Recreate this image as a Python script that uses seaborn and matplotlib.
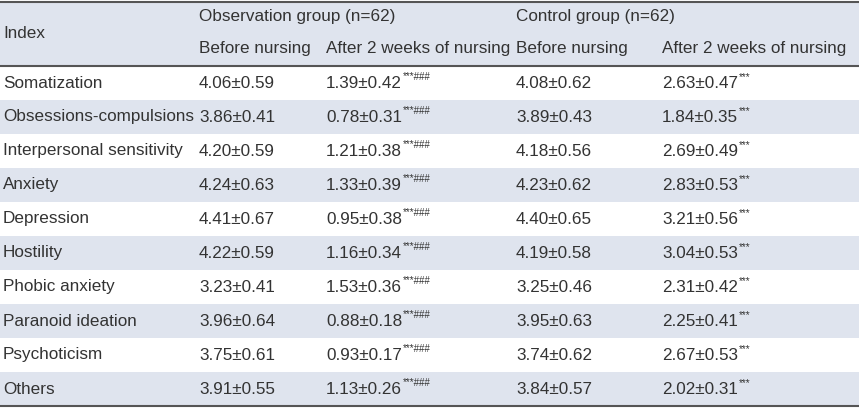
import matplotlib
matplotlib.use("Agg")
import matplotlib.pyplot as plt
import seaborn as sns

sns.set_theme(style="white")
plt.rcParams['font.family'] = ['Liberation Sans', 'DejaVu Sans']

indices = ["Somatization", "Obsessions-compulsions", "Interpersonal sensitivity", "Anxiety",
           "Depression", "Hostility", "Phobic anxiety", "Paranoid ideation", "Psychoticism", "Others"]
obs_before = ["4.06±0.59", "3.86±0.41", "4.20±0.59", "4.24±0.63", "4.41±0.67",
              "4.22±0.59", "3.23±0.41", "3.96±0.64", "3.75±0.61", "3.91±0.55"]
obs_after = ["1.39±0.42", "0.78±0.31", "1.21±0.38", "1.33±0.39", "0.95±0.38",
             "1.16±0.34", "1.53±0.36", "0.88±0.18", "0.93±0.17", "1.13±0.26"]
ctl_before = ["4.08±0.62", "3.89±0.43", "4.18±0.56", "4.23±0.62", "4.40±0.65",
              "4.19±0.58", "3.25±0.46", "3.95±0.63", "3.74±0.62", "3.84±0.57"]
ctl_after = ["2.63±0.47", "1.84±0.35", "2.69±0.49", "2.83±0.53", "3.21±0.56",
             "3.04±0.53", "2.31±0.42", "2.25±0.41", "2.67±0.53", "2.02±0.31"]
obs_sup = "***###"
ctl_sup = "***"

W, H = 859, 408
fig = plt.figure(figsize=(W/100, H/100), dpi=100)
ax = fig.add_axes([0, 0, 1, 1])
ax.set_xlim(0, W); ax.set_ylim(H, 0); ax.axis('off')

shade = "#dfe4ee"
tc = "#333333"
fs = 12.3
colx = [3, 199, 326, 516, 662]
top, hdr_bot, rh = 2, 66, 34

ax.axhspan(top, hdr_bot, color=shade, lw=0)
for i in range(len(indices)):
    if i % 2 == 1:
        ax.axhspan(hdr_bot + i*rh, hdr_bot + (i+1)*rh, color=shade, lw=0)
ax.axhline(top, color="#555555", lw=1.5)
ax.axhline(hdr_bot, color="#555555", lw=1.5)
ax.axhline(hdr_bot + len(indices)*rh, color="#555555", lw=1.5)

ax.text(colx[0], 33, "Index", fontsize=fs, color=tc, va='center')
ax.text(colx[1], 17, "Observation group (n=62)", fontsize=fs, color=tc, va='center')
ax.text(colx[3], 17, "Control group (n=62)", fontsize=fs, color=tc, va='center')
for x, lab in zip(colx[1:], ["Before nursing", "After 2 weeks of nursing",
                             "Before nursing", "After 2 weeks of nursing"]):
    ax.text(x, 49, lab, fontsize=fs, color=tc, va='center')

def cell(x, y, s, sup=None):
    t = ax.text(x, y, s, fontsize=fs, color=tc, va='center')
    if sup:
        ax.annotate(sup, xy=(1, 1), xycoords=t, xytext=(0.5, 2.5), textcoords='offset points',
                    fontsize=7, color=tc, va='top', ha='left')

for i in range(len(indices)):
    y = hdr_bot + i*rh + rh/2
    cell(colx[0], y, indices[i])
    cell(colx[1], y, obs_before[i])
    cell(colx[2], y, obs_after[i], obs_sup)
    cell(colx[3], y, ctl_before[i])
    cell(colx[4], y, ctl_after[i], ctl_sup)

fig.savefig("out.png", dpi=100)
